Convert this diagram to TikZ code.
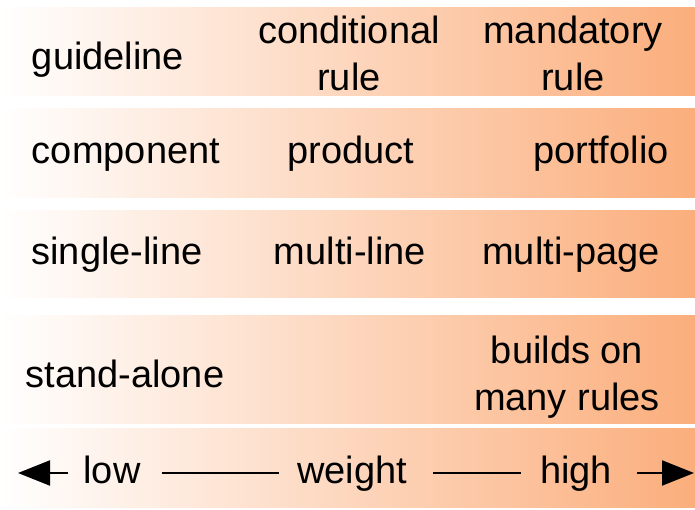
\documentclass[tikz,border=0pt]{standalone}
\usepackage{fontspec}
\setmainfont{Liberation Sans}
\usetikzlibrary{arrows.meta}
\definecolor{hiorange}{RGB}{251,174,124}

\begin{document}
\begin{tikzpicture}[x=1pt,y=-1pt,
	band/.style={left color=white,right color=hiorange,draw=none},
	lbl/.style={anchor=base,inner sep=0pt,align=center,font=\fontsize{38}{47}\selectfont},
	ax/.style={lbl,anchor=center,text height=28pt,text depth=8pt},
	axline/.style={line width=2pt}]
	\useasboundingbox (0,0) rectangle (695,509);

	% shaded bands
	\foreach \t/\b in {7/95,108/197,210/297,315/423,428/507}
		\shade[band] (0,\t) rectangle (695,\b);

	% base = last line
	\node[lbl] (guide) at (108,69) {guideline};
	\node[lbl] (cond) at (349,90) {conditional\\rule};
	\node[lbl] (mand) at (573,90) {mandatory\\rule};

	\node[lbl] (comp) at (126,163) {component};
	\node[lbl] (prod) at (351,163) {product};
	\node[lbl] (port) at (601,163) {portfolio};

	\node[lbl] (single) at (117,264) {single-line};
	\node[lbl] (multi) at (350,264) {multi-line};
	\node[lbl] (page) at (571,264) {multi-page};

	\node[lbl] (alone) at (125,387) {stand-alone};
	\node[lbl] (builds) at (567,410) {builds on\\many rules};

	% weight axis
	\node[ax] (low) at (112,473) {low};
	\node[ax] (weight) at (352,473) {weight};
	\node[ax] (high) at (576,473) {high};
	\coordinate (lft) at (18,473);
	\coordinate (rgt) at (694,473);

	\draw[axline,-{Triangle[length=32pt,width=25pt]},shorten <=15pt] (low) -- (lft);
	\draw[axline,shorten <=21pt,shorten >=18pt] (low) -- (weight);
	\draw[axline,shorten <=26pt,shorten >=19pt] (weight) -- (high);
	\draw[axline,-{Triangle[length=32pt,width=25pt]},shorten <=25pt] (high) -- (rgt);
\end{tikzpicture}
\end{document}
